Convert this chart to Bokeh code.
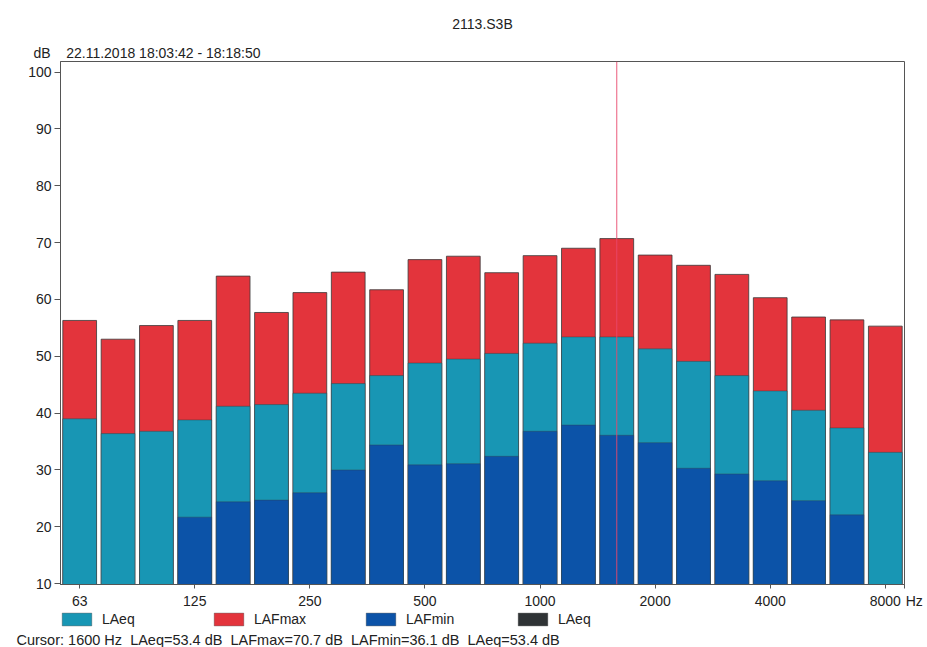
from bokeh.plotting import figure
from bokeh.layouts import column
from bokeh.models import (Range1d, FixedTicker, Span, Legend, LegendItem,
                          ColumnDataSource, Title)
from bokeh.embed import file_html
from bokeh.resources import INLINE

# ---- data ----
bands = ["63", "80", "100", "125", "160", "200", "250", "315", "400", "500", "630",
         "800", "1000", "1250", "1600", "2000", "2500", "3150", "4000", "5000",
         "6300", "8000"]
tick_labels = ["63", "125", "250", "500", "1000", "2000", "4000", "8000"]
lafmax = [56.3, 53.0, 55.4, 56.3, 64.1, 57.7, 61.2, 64.8, 61.7, 67.0, 67.6,
          64.7, 67.7, 69.0, 70.7, 67.8, 66.0, 64.4, 60.3, 56.9, 56.4, 55.3]
laeq = [39.0, 36.4, 36.8, 38.8, 41.2, 41.5, 43.5, 45.2, 46.6, 48.8, 49.5,
        50.5, 52.3, 53.4, 53.4, 51.3, 49.1, 46.6, 43.9, 40.5, 37.4, 33.1]
lafmin = [None, None, None, 21.7, 24.4, 24.7, 26.0, 30.0, 34.4, 30.9, 31.1,
          32.4, 36.8, 37.9, 36.1, 34.8, 30.3, 29.3, 28.1, 24.6, 22.1, None]
y_ticks = [10, 20, 30, 40, 50, 60, 70, 80, 90, 100]
legend_labels = ["LAeq", "LAFmax", "LAFmin", "LAeq"]
cursor_band = "1600"
title_text = "2113.S3B"
y_unit = "dB"
date_text = "22.11.2018 18:03:42 - 18:18:50"
x_unit = "Hz"

FONT = "Liberation Sans"
C_EQ = "#1896b4"
C_MAX = "#e3343c"
C_MIN = "#0c53a8"
C_DARK = "#2f3335"
TXT = "#222222"
NB = "\u00a0"

n = len(bands)
idx = list(range(n))
ci = bands.index(cursor_band)
src = ColumnDataSource(dict(
    x=idx,
    lafmax=lafmax,
    laeq=laeq,
    lafmin=[float("nan") if v is None else v for v in lafmin],
))

FIG_W = 927
P_H = 611
p = figure(width=FIG_W, height=P_H, output_backend="svg", toolbar_location=None,
           x_range=Range1d(-0.5, n - 0.5), y_range=Range1d(9.85, 101.85),
           min_border_left=60, min_border_right=23, min_border_top=61,
           min_border_bottom=27)
p.xgrid.visible = False
p.ygrid.visible = False
p.outline_line_color = "#555555"
p.outline_line_width = 1
p.background_fill_color = "white"
p.border_fill_color = "white"

W = 0.88
p.vbar(x="x", top="lafmax", bottom=0, width=W, source=src,
       fill_color=C_MAX, line_color="#3a3a3a", line_alpha=0.8, line_width=1)
p.vbar(x="x", top="laeq", bottom=0, width=W, source=src,
       fill_color=C_EQ, line_color="#3a3a3a", line_alpha=0.45, line_width=1)
p.vbar(x="x", top="lafmin", bottom=0, width=W, source=src,
       fill_color=C_MIN, line_color="#3a3a3a", line_alpha=0.35, line_width=1)

# axes
p.yaxis.ticker = FixedTicker(ticks=y_ticks)
p.yaxis.minor_tick_line_color = None
p.yaxis.major_tick_out = 6
p.yaxis.major_tick_in = 0
p.yaxis.major_label_standoff = 3
x_ticks = [bands.index(t) for t in tick_labels]
p.xaxis.ticker = FixedTicker(ticks=x_ticks + [n - 0.5])
overrides = {bands.index(t): t for t in tick_labels}
overrides[n - 0.5] = NB * 5 + x_unit
p.xaxis.major_label_overrides = overrides
p.xaxis.minor_tick_line_color = None
p.xaxis.major_tick_out = 4
p.xaxis.major_tick_in = 0
p.xaxis.major_label_standoff = 4
for ax in (p.xaxis, p.yaxis):
    ax.axis_line_color = "#555555"
    ax.major_tick_line_color = "#555555"
    ax.major_label_text_font = FONT
    ax.major_label_text_font_size = "14px"
    ax.major_label_text_color = TXT

# cursor line
p.add_layout(Span(location=ci, dimension="height", line_color="#e8486c",
                  line_width=1, line_alpha=0.9))

# titles above
p.add_layout(Title(text=y_unit + NB * 3 + " " + date_text, align="left", offset=-27,
                   standoff=1, text_font=FONT, text_font_size="14px",
                   text_font_style="normal", text_color=TXT), "above")
p.add_layout(Title(text=title_text, align="center", offset=-17, standoff=21,
                   text_font=FONT, text_font_size="14px", text_font_style="normal",
                   text_color=TXT), "above")

# ---- footer: legend + cursor readout ----
q = figure(width=FIG_W, height=647 - P_H, output_backend="svg", toolbar_location=None,
           x_range=Range1d(0, FIG_W), y_range=Range1d(0, 20),
           x_axis_type=None, y_axis_type=None, min_border=0)
q.xgrid.visible = False
q.ygrid.visible = False
q.outline_line_color = None
q.background_fill_color = "white"
q.border_fill_color = "white"

items = []
for lab, col in zip(legend_labels, [C_EQ, C_MAX, C_MIN, C_DARK]):
    r = q.vbar(x=[0], top=[float("nan")], bottom=0, width=1,
               fill_color=col, line_color="#3a3a3a", line_alpha=0.35)
    items.append(LegendItem(label=lab, renderers=[r]))
legend = Legend(items=items, orientation="horizontal", location=(-2, 2),
                glyph_width=37, glyph_height=16, label_standoff=7, label_width=101,
                spacing=7, padding=0, margin=0, border_line_color=None,
                background_fill_alpha=0, label_text_font=FONT,
                label_text_font_size="14px", label_text_color=TXT, label_height=16)
q.add_layout(legend, "center")

cursor_text = ("Cursor: %s Hz  LAeq=%.1f dB  LAFmax=%.1f dB  LAFmin=%.1f dB  LAeq=%.1f dB"
               % (cursor_band, laeq[ci], lafmax[ci], lafmin[ci], laeq[ci])).replace("  ", NB + " ")
q.add_layout(Title(text=cursor_text, align="left", offset=-44, standoff=0,
                   text_font=FONT, text_font_size="14.5px", text_font_style="normal",
                   text_color=TXT), "below")

layout = column(p, q, spacing=0)
open("out.html", "w").write(file_html(layout, INLINE))
